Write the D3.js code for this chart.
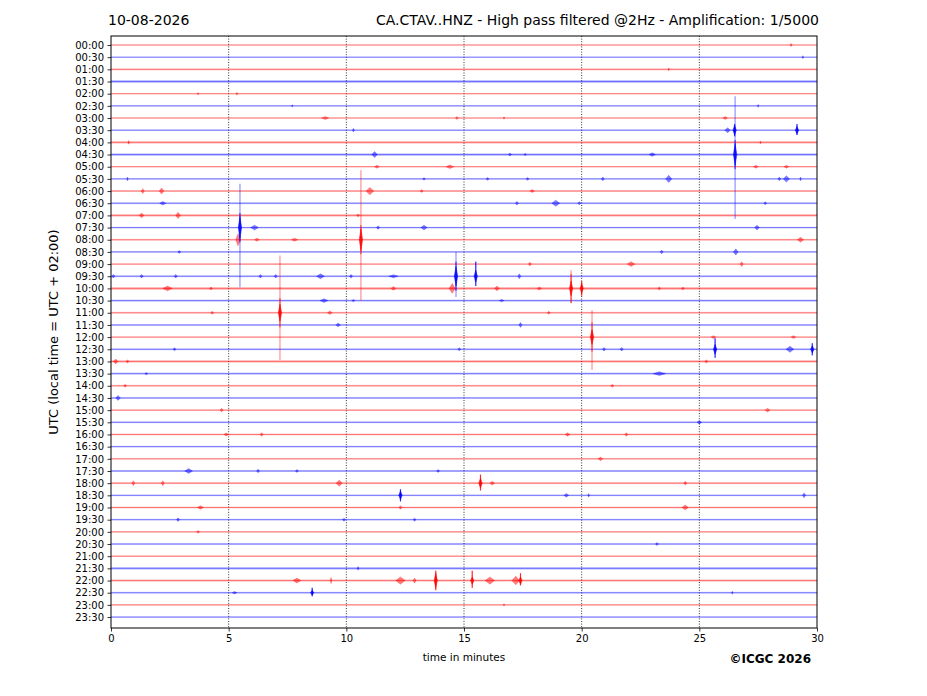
<!DOCTYPE html>
<html>
<head>
<meta charset="utf-8">
<script src="https://cdn.jsdelivr.net/npm/d3@7"></script>
<style>
  body { margin: 0; background: #fff; }
  text { font-family: "DejaVu Sans", sans-serif; }
</style>
</head>
<body>
<div id="chart"></div>
<script>
// row tick labels, one trace per half hour
var rowLabels = ["00:00","00:30","01:00","01:30","02:00","02:30","03:00","03:30","04:00","04:30",
  "05:00","05:30","06:00","06:30","07:00","07:30","08:00","08:30","09:00","09:30",
  "10:00","10:30","11:00","11:30","12:00","12:30","13:00","13:30","14:00","14:30",
  "15:00","15:30","16:00","16:30","17:00","17:30","18:00","18:30","19:00","19:30",
  "20:00","20:30","21:00","21:30","22:00","22:30","23:00","23:30"];

var xTicks = [0, 5, 10, 15, 20, 25, 30];

// background noise level of each trace (0 quiet .. 1 noisy)
var rowNoise = [0.2,0.2,0.5,0.9,0.2,0.3,0.3,0.3,0.7,0.8,
  0.3,0.4,0.4,0.5,0.8,0.4,0.4,0.4,0.4,0.5,
  0.9,0.5,0.4,0.4,0.3,0.5,0.8,0.5,0.4,0.4,
  0.4,0.4,0.5,0.4,0.4,0.5,0.5,0.4,0.5,0.4,
  0.3,0.4,0.3,0.8,0.6,0.4,0.3,0.3];

// large events: [row, minute, extent up (rows), extent down (rows), core amplitude (rows)]
var spikes = [
  [9, 26.52, 4.8, 5.3, 0.9],
  [7, 26.50, 0.5, 0.5, 0.4],
  [15, 5.48, 3.6, 4.9, 0.9],
  [16, 10.62, 5.7, 5.0, 0.9],
  [22, 7.18, 4.7, 3.9, 0.7],
  [24, 20.44, 2.2, 2.7, 0.6],
  [19, 14.66, 2.0, 1.7, 0.8],
  [19, 15.50, 1.2, 0.8, 0.5],
  [20, 19.55, 1.5, 1.2, 0.6],
  [20, 20.00, 0.6, 0.6, 0.4],
  [25, 25.67, 0.9, 0.7, 0.4],
  [25, 29.80, 0.5, 0.5, 0.3],
  [7, 29.15, 0.5, 0.4, 0.3],
  [36, 15.70, 0.7, 0.6, 0.4],
  [44, 13.80, 0.8, 0.8, 0.6],
  [44, 15.35, 0.8, 0.6, 0.3],
  [44, 17.40, 0.6, 0.4, 0.3],
  [37, 12.30, 0.5, 0.5, 0.35],
  [45, 8.55, 0.4, 0.3, 0.2]
];

// small bursts: [row, minute, amplitude (rows), duration (minutes)]
var bursts = [
  [0, 28.9, 0.12, 0.15], [1, 29.4, 0.12, 0.1], [2, 23.7, 0.12, 0.1],
  [4, 3.7, 0.1, 0.1], [4, 5.35, 0.12, 0.1], [5, 7.7, 0.1, 0.1], [5, 27.5, 0.12, 0.1],
  [6, 9.1, 0.12, 0.45], [6, 14.7, 0.12, 0.2], [6, 16.7, 0.1, 0.1], [6, 26.1, 0.12, 0.3],
  [7, 10.3, 0.15, 0.15], [7, 26.2, 0.2, 0.35],
  [8, 0.75, 0.15, 0.1], [8, 27.6, 0.12, 0.1],
  [9, 11.2, 0.25, 0.35], [9, 16.95, 0.12, 0.2], [9, 17.6, 0.1, 0.15], [9, 23.0, 0.15, 0.4],
  [10, 11.3, 0.12, 0.3], [10, 14.4, 0.15, 0.5], [10, 27.4, 0.12, 0.3], [10, 28.7, 0.12, 0.3],
  [11, 0.7, 0.15, 0.1], [11, 13.3, 0.1, 0.2], [11, 16.0, 0.12, 0.2], [11, 17.7, 0.12, 0.2],
  [11, 20.9, 0.15, 0.2], [11, 23.7, 0.3, 0.4], [11, 28.4, 0.15, 0.2], [11, 28.7, 0.25, 0.4], [11, 29.3, 0.15, 0.1],
  [12, 1.35, 0.2, 0.2], [12, 2.15, 0.25, 0.3], [12, 11.0, 0.3, 0.5], [12, 13.2, 0.12, 0.2], [12, 17.9, 0.12, 0.3],
  [13, 2.2, 0.15, 0.4], [13, 17.25, 0.15, 0.2], [13, 18.9, 0.25, 0.5], [13, 19.9, 0.12, 0.2], [13, 27.8, 0.12, 0.2],
  [14, 1.3, 0.2, 0.3], [14, 2.85, 0.25, 0.3], [14, 10.5, 0.12, 0.2],
  [15, 6.1, 0.2, 0.5], [15, 11.35, 0.15, 0.2], [15, 13.3, 0.2, 0.4], [15, 27.45, 0.2, 0.3],
  [16, 5.4, 0.5, 0.3], [16, 6.2, 0.12, 0.3], [16, 7.8, 0.12, 0.4], [16, 29.3, 0.2, 0.4],
  [17, 2.9, 0.12, 0.2], [17, 23.4, 0.15, 0.2], [17, 26.55, 0.25, 0.3],
  [18, 17.8, 0.15, 0.2], [18, 22.1, 0.2, 0.5], [18, 26.8, 0.2, 0.2],
  [19, 0.1, 0.15, 0.2], [19, 1.3, 0.15, 0.2], [19, 2.75, 0.15, 0.2], [19, 6.35, 0.15, 0.2],
  [19, 7.0, 0.15, 0.2], [19, 8.9, 0.2, 0.5], [19, 10.2, 0.15, 0.2], [19, 12.0, 0.12, 0.6],
  [19, 17.35, 0.2, 0.2],
  [20, 2.4, 0.2, 0.6], [20, 4.25, 0.12, 0.2], [20, 12.0, 0.15, 0.3], [20, 14.5, 0.4, 0.4],
  [20, 16.4, 0.2, 0.3], [20, 18.2, 0.12, 0.3], [20, 23.3, 0.12, 0.2], [20, 24.3, 0.12, 0.2],
  [21, 9.05, 0.15, 0.5], [21, 10.3, 0.1, 0.2], [21, 16.6, 0.1, 0.3],
  [22, 4.3, 0.12, 0.2], [22, 9.3, 0.15, 0.3], [22, 18.6, 0.12, 0.2],
  [23, 9.65, 0.15, 0.3], [23, 17.4, 0.2, 0.2],
  [24, 25.6, 0.12, 0.3], [24, 29.0, 0.12, 0.3],
  [25, 2.7, 0.12, 0.2], [25, 14.8, 0.12, 0.2], [25, 20.95, 0.15, 0.2], [25, 21.7, 0.15, 0.2],
  [25, 28.85, 0.25, 0.5],
  [26, 0.2, 0.2, 0.3], [26, 0.7, 0.12, 0.2], [26, 25.3, 0.12, 0.2],
  [27, 23.3, 0.15, 0.8], [27, 1.5, 0.1, 0.2],
  [28, 0.6, 0.12, 0.2], [28, 21.3, 0.12, 0.2],
  [29, 0.3, 0.2, 0.3],
  [30, 4.7, 0.15, 0.2], [30, 27.9, 0.15, 0.3],
  [31, 25.0, 0.15, 0.3],
  [32, 4.9, 0.12, 0.3], [32, 6.4, 0.15, 0.2], [32, 19.4, 0.15, 0.3], [32, 21.9, 0.15, 0.2],
  [34, 20.8, 0.15, 0.3],
  [35, 3.3, 0.2, 0.5], [35, 6.25, 0.15, 0.2], [35, 7.9, 0.12, 0.2], [35, 13.9, 0.12, 0.2],
  [36, 0.95, 0.2, 0.2], [36, 2.2, 0.2, 0.2], [36, 9.7, 0.25, 0.4], [36, 16.2, 0.15, 0.3], [36, 24.4, 0.15, 0.2],
  [37, 19.35, 0.15, 0.3], [37, 20.3, 0.15, 0.1], [37, 29.45, 0.2, 0.2],
  [38, 3.8, 0.15, 0.4], [38, 12.3, 0.15, 0.2], [38, 24.4, 0.2, 0.4],
  [39, 2.85, 0.15, 0.2], [39, 9.9, 0.12, 0.2], [39, 12.9, 0.12, 0.2],
  [40, 3.7, 0.12, 0.2],
  [41, 23.2, 0.12, 0.2],
  [43, 10.5, 0.15, 0.1],
  [44, 7.9, 0.2, 0.5], [44, 9.35, 0.25, 0.1], [44, 12.3, 0.3, 0.6], [44, 12.9, 0.2, 0.2],
  [44, 16.1, 0.3, 0.6], [44, 17.2, 0.35, 0.5],
  [45, 5.25, 0.1, 0.3], [45, 26.4, 0.12, 0.1],
  [46, 16.7, 0.1, 0.1]
];

var width = 927, height = 696,
    margin = {top: 36, right: 110, bottom: 68, left: 111};

var svg = d3.select("#chart").append("svg")
    .attr("width", width)
    .attr("height", height);

var x = d3.scaleLinear()
    .domain([0, 30])
    .range([margin.left, width - margin.right]);

var y = d3.scaleLinear()
    .domain([-0.74, 47.9])
    .range([margin.top, height - margin.bottom]);

var rowH = y(1) - y(0);

function rowColor(i) { return i % 2 ? "#0000ff" : "#ff0000"; }

svg.append("defs").append("clipPath").attr("id", "clip")
  .append("rect")
    .attr("x", x(0)).attr("y", y.range()[0])
    .attr("width", x(30) - x(0)).attr("height", y.range()[1] - y.range()[0]);

var plot = svg.append("g").attr("clip-path", "url(#clip)");

// dotted minute grid
plot.append("g").selectAll("line")
    .data(xTicks.slice(1, -1))
  .enter().append("line")
    .attr("x1", function(d) { return x(d); })
    .attr("x2", function(d) { return x(d); })
    .attr("y1", y.range()[0])
    .attr("y2", y.range()[1])
    .attr("stroke", "#000")
    .attr("stroke-width", 0.8)
    .attr("stroke-dasharray", "1,1.6");

// trace baselines: noisy band + core line
var traces = plot.append("g").selectAll("g")
    .data(rowNoise)
  .enter().append("g");

traces.append("line")
    .attr("x1", x(0)).attr("x2", x(30))
    .attr("y1", function(d, i) { return y(i); })
    .attr("y2", function(d, i) { return y(i); })
    .attr("stroke", function(d, i) { return rowColor(i); })
    .attr("stroke-width", function(d) { return 1 + d * 2.2; })
    .attr("stroke-opacity", function(d) { return 0.12 + d * 0.12; });

traces.append("line")
    .attr("x1", x(0)).attr("x2", x(30))
    .attr("y1", function(d, i) { return y(i); })
    .attr("y2", function(d, i) { return y(i); })
    .attr("stroke", function(d, i) { return rowColor(i); })
    .attr("stroke-width", 1)
    .attr("stroke-opacity", 0.45);

// small bursts drawn as envelopes
var env = d3.area()
    .x(function(p) { return x(p[0]); })
    .y0(function(p) { return y(p[1]) - p[2] * rowH; })
    .y1(function(p) { return y(p[1]) + p[2] * rowH; });

plot.append("g").selectAll("path")
    .data(bursts)
  .enter().append("path")
    .attr("d", function(d) {
      return env([[d[1] - d[3] / 3, d[0], 0], [d[1], d[0], d[2]], [d[1] + d[3] / 3, d[0], 0]]);
    })
    .attr("fill", function(d) { return rowColor(d[0]); })
    .attr("fill-opacity", 0.5)
    .attr("stroke", function(d) { return rowColor(d[0]); })
    .attr("stroke-width", 0.5)
    .attr("stroke-opacity", 0.5);

// large events: long faint swing + strong core
var sp = plot.append("g").selectAll("g")
    .data(spikes)
  .enter().append("g");

sp.append("line")
    .attr("x1", function(d) { return x(d[1]); })
    .attr("x2", function(d) { return x(d[1]); })
    .attr("y1", function(d) { return y(d[0] - d[2]); })
    .attr("y2", function(d) { return y(d[0] + d[3]); })
    .attr("stroke", function(d) { return rowColor(d[0]); })
    .attr("stroke-width", 1.3)
    .attr("stroke-opacity", 0.4);

sp.append("line")
    .attr("x1", function(d) { return x(d[1]); })
    .attr("x2", function(d) { return x(d[1]); })
    .attr("y1", function(d) { return y(d[0] - Math.min(d[2], 1.2)); })
    .attr("y2", function(d) { return y(d[0] + Math.min(d[3], 1.2)); })
    .attr("stroke", function(d) { return rowColor(d[0]); })
    .attr("stroke-width", 1)
    .attr("stroke-opacity", 0.75);

sp.append("path")
    .attr("d", function(d) {
      return env([[d[1] - 0.07, d[0], 0], [d[1], d[0], d[4]], [d[1] + 0.07, d[0], 0]]);
    })
    .attr("fill", function(d) { return rowColor(d[0]); })
    .attr("fill-opacity", 0.85)
    .attr("stroke", function(d) { return rowColor(d[0]); })
    .attr("stroke-width", 0.5);

// frame
svg.append("rect")
    .attr("x", x(0)).attr("y", y.range()[0])
    .attr("width", x(30) - x(0)).attr("height", y.range()[1] - y.range()[0])
    .attr("fill", "none")
    .attr("stroke", "#000")
    .attr("stroke-width", 1);

// axes
var xAxis = svg.append("g")
    .attr("transform", "translate(0," + y.range()[1] + ")")
    .call(d3.axisBottom(x).tickValues(xTicks).tickSize(3.5).tickPadding(3.5));

var yAxis = svg.append("g")
    .attr("transform", "translate(" + x(0) + ",0)")
    .call(d3.axisLeft(y).tickValues(d3.range(rowLabels.length))
      .tickFormat(function(i) { return rowLabels[i]; })
      .tickSize(3.5).tickPadding(3.5));

[xAxis, yAxis].forEach(function(a) {
  a.select(".domain").remove();
  a.selectAll("text").attr("font-size", 10).attr("fill", "#000")
      .style("font-family", "DejaVu Sans");
  a.selectAll("line").attr("stroke", "#000").attr("stroke-width", 0.8);
});

// labels
svg.append("text")
    .attr("x", (x(0) + x(30)) / 2)
    .attr("y", 661)
    .attr("text-anchor", "middle")
    .attr("font-size", 10.5)
    .text("time in minutes");

svg.append("text")
    .attr("transform", "translate(58," + ((y.range()[0] + y.range()[1]) / 2) + ") rotate(-90)")
    .attr("text-anchor", "middle")
    .attr("font-size", 13)
    .text("UTC (local time = UTC + 02:00)");

svg.append("text")
    .attr("x", 108)
    .attr("y", 25)
    .attr("font-size", 14)
    .text("10-08-2026");

svg.append("text")
    .attr("x", 819)
    .attr("y", 25)
    .attr("text-anchor", "end")
    .attr("font-size", 14)
    .text("CA.CTAV..HNZ - High pass filtered @2Hz - Amplification: 1/5000");

svg.append("text")
    .attr("x", 811)
    .attr("y", 663)
    .attr("text-anchor", "end")
    .attr("font-size", 12)
    .attr("font-weight", "bold")
    .text("©ICGC 2026");
</script>
</body>
</html>
